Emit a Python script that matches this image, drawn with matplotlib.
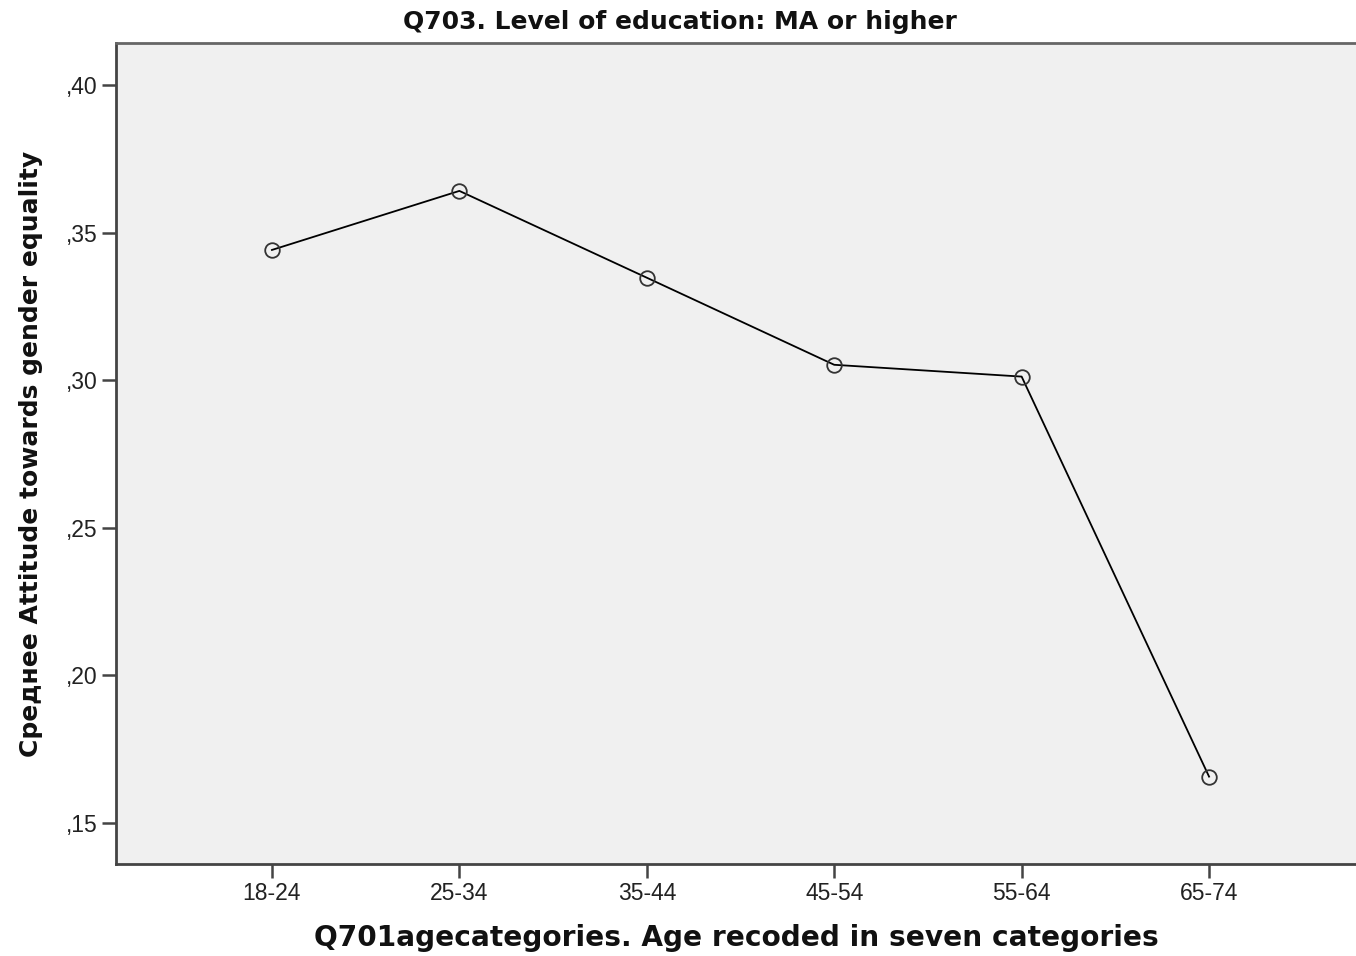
import matplotlib
matplotlib.use("Agg")
import matplotlib.pyplot as plt
from matplotlib.ticker import FuncFormatter

categories = ["18-24", "25-34", "35-44", "45-54", "55-64", "65-74"]
values = [0.3441, 0.3641, 0.3347, 0.3052, 0.3012, 0.1657]
yticks = [0.15, 0.20, 0.25, 0.30, 0.35, 0.40]

title = "Q703. Level of education: MA or higher"
xlabel = "Q701agecategories. Age recoded in seven categories"
ylabel = "Среднее Attitude towards gender equality"

plt.rcParams['font.family'] = ['Liberation Sans', 'DejaVu Sans']

fig = plt.figure(figsize=(13.56, 9.56), dpi=100)
ax = fig.add_axes([116/1356, 1-864/956, 1-116/1356, (864-43)/956])
ax.set_facecolor('#f0f0f0')

x = list(range(len(categories)))
ax.plot(x, values, color='black', linewidth=1.3, zorder=2)
ax.plot(x, values, linestyle='none', marker='o', markersize=10.5,
        markerfacecolor='none', markeredgecolor='#333333', markeredgewidth=1.3, zorder=3)

ax.set_xlim(-0.832, 5.784)
ax.set_ylim(0.1361, 0.4142)
ax.set_xticks(x)
ax.set_xticklabels(categories)
ax.set_yticks(yticks)
ax.yaxis.set_major_formatter(FuncFormatter(lambda v, p: ("%.2f" % v).replace("0.", ",")))

for s in ['left', 'bottom']:
    ax.spines[s].set_color('#444444')
    ax.spines[s].set_linewidth(2.0)
ax.spines['top'].set_color('#666666')
ax.spines['top'].set_linewidth(2.0)
ax.spines['right'].set_visible(False)

ax.tick_params(axis='both', direction='out', length=10, width=1.8, color='#444444',
               labelsize=16.5, labelcolor='#222222', pad=3)

bold = ['DejaVu Sans']
ax.set_title(title, fontsize=18, fontweight='bold', pad=10, color='#111111', family=bold,
             x=(680 - 116) / (1356 - 116))
ax.set_xlabel(xlabel, fontsize=20.2, fontweight='bold', labelpad=14, color='#111111', family=bold)
ax.set_ylabel(ylabel, fontsize=18, fontweight='bold', labelpad=17, color='#111111', family=bold)

fig.savefig('out.png', dpi=100)
